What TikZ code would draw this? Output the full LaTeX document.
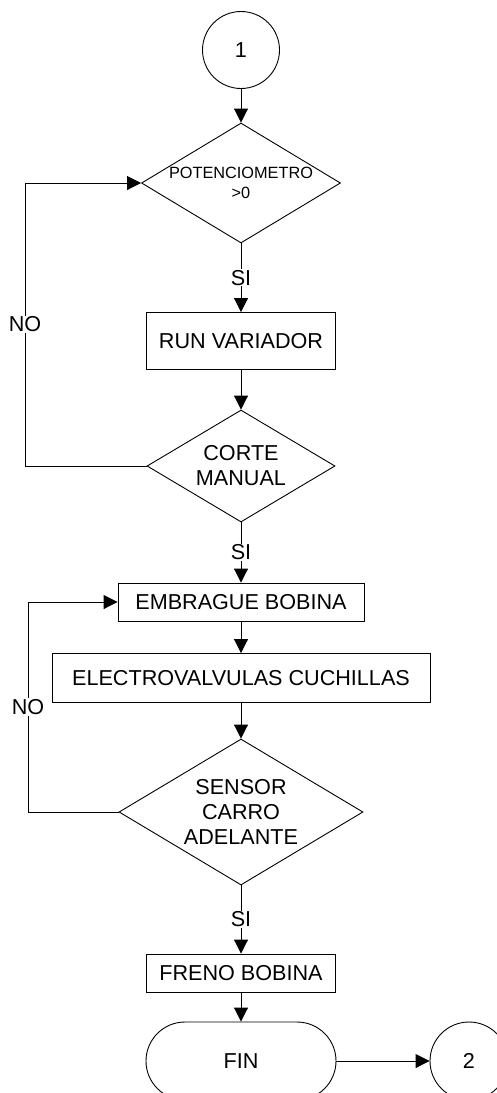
\documentclass[tikz,border=0pt]{standalone}
\usepackage{fontspec}
\setmainfont{Liberation Sans}
\usetikzlibrary{arrows.meta,shapes.geometric}
\begin{document}
\begin{tikzpicture}[x=1pt,y=-1pt,
  font=\fontsize{21.6}{25}\selectfont,
  every node/.style={inner sep=0pt},
  ln/.style={line width=0.9pt,draw=black},
  arr/.style={ln,-{Triangle[width=14pt,length=14pt]}},
  proc/.style={ln,draw,rectangle,minimum height=38pt},
  dia/.style={ln,draw,diamond,inner sep=0pt},
  conn/.style={ln,draw,circle,minimum size=77pt},
  term/.style={ln,draw,rectangle,rounded corners=39pt,minimum width=190pt,minimum height=78pt},
  lab/.style={fill=white,inner sep=1pt}
]
\useasboundingbox (0,0) rectangle (497,1093);
\clip (0,0) rectangle (497,1093);
\node[conn] (c1) at (241,50) {1};
\node[dia,minimum width=199pt,minimum height=120pt,
  label={[align=center,font=\fontsize{16.3}{20}\selectfont]center:POTENCIOMETRO\\>0}] (d1) at (241,183) {};
\node[proc,minimum width=189pt,minimum height=57pt] (run) at (241,341) {RUN VARIADOR};
\node[dia,minimum width=188pt,minimum height=112pt,
  label={[align=center]center:CORTE\\MANUAL}] (d2) at (241,466) {};
\node[proc,minimum width=246pt] (emb) at (241,602) {EMBRAGUE BOBINA};
\node[proc,minimum width=378pt,minimum height=49pt] (elec) at (241,678) {ELECTROVALVULAS CUCHILLAS};
\node[dia,minimum width=244pt,minimum height=146pt,
  label={[align=center]center:SENSOR\\CARRO\\ADELANTE}] (d3) at (241,812) {};
\node[proc,minimum width=189pt] (fre) at (241,973) {FRENO BOBINA};
\node[term] (fin) at (241,1061) {FIN};
\node[conn,minimum size=78pt] (c2) at (469,1061) {2};

\coordinate (n1a) at (25,466);
\coordinate (n1b) at (25,183);
\coordinate (n2a) at (28,812);
\coordinate (n2b) at (28,602);

\draw[arr] (c1) -- (d1.north);
\draw[arr] (d1.south) -- node[lab]{SI} (run.north);
\draw[arr] (run) -- (d2.north);
\draw[arr] (d2.south) -- node[lab]{SI} (emb.north);
\draw[arr] (emb) -- (elec);
\draw[arr] (elec) -- (d3.north);
\draw[arr] (d3.south) -- node[lab]{SI} (fre.north);
\draw[arr] (fre) -- (fin);
\draw[arr] (fin) -- (c2);
\draw[arr] (d2.west) -- (n1a) -- node[lab]{NO} (n1b) -- (d1.west);
\draw[arr] (d3.west) -- (n2a) -- node[lab]{NO} (n2b) -- (emb.west);
\end{tikzpicture}
\end{document}
